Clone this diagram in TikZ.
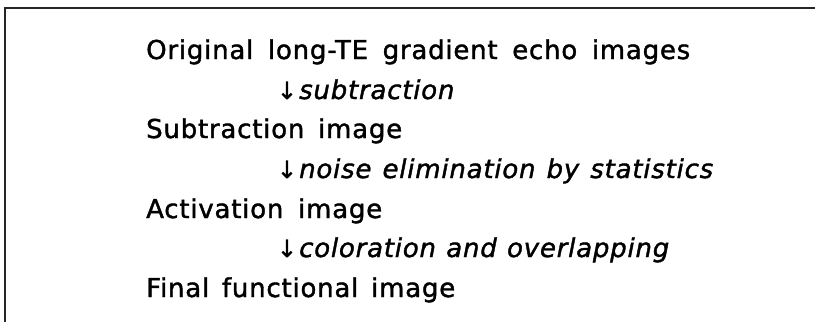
\documentclass[tikz,border=0pt]{standalone}
\usepackage{fontspec}
\setmainfont[LetterSpace=3,FakeBold=1.5,ItalicFeatures={LetterSpace=3,FakeBold=1.5}]{DejaVu Sans}
\begin{document}
\begin{tikzpicture}[x=1pt,y=1pt,
  txt/.style={anchor=base west,inner sep=0pt,font=\fontsize{26}{30}\selectfont},
  note/.style={txt,font=\fontsize{26}{30}\selectfont\itshape},
  arr/.style={anchor=base,inner sep=0pt,font=\fontsize{24}{30}\selectfont}]
\useasboundingbox (0,0) rectangle (815,-322);
\draw[line width=1.4pt,black!85] (5,-322) -- (5,-8) -- (815,-8);
\node[txt] (l1) at (146,-59) {\makebox[544pt][s]{Original long-TE gradient echo images}};
\node[arr] (a2) at (287,-99) {↓};
\node[note] (l2) at (299,-99) {subtraction};
\node[txt] (l3) at (146,-138) {\makebox[256pt][s]{Subtraction image}};
\node[arr] (a4) at (287,-178) {↓};
\node[note] (l4) at (299,-178) {\makebox[414pt][s]{noise elimination by statistics}};
\node[txt] (l5) at (146,-218) {\makebox[236pt][s]{Activation image}};
\node[arr] (a6) at (287,-257) {↓};
\node[note] (l6) at (299,-257) {\makebox[370pt][s]{coloration and overlapping}};
\node[txt] (l7) at (146,-297) {\makebox[309pt][s]{Final functional image}};
\end{tikzpicture}
\end{document}
